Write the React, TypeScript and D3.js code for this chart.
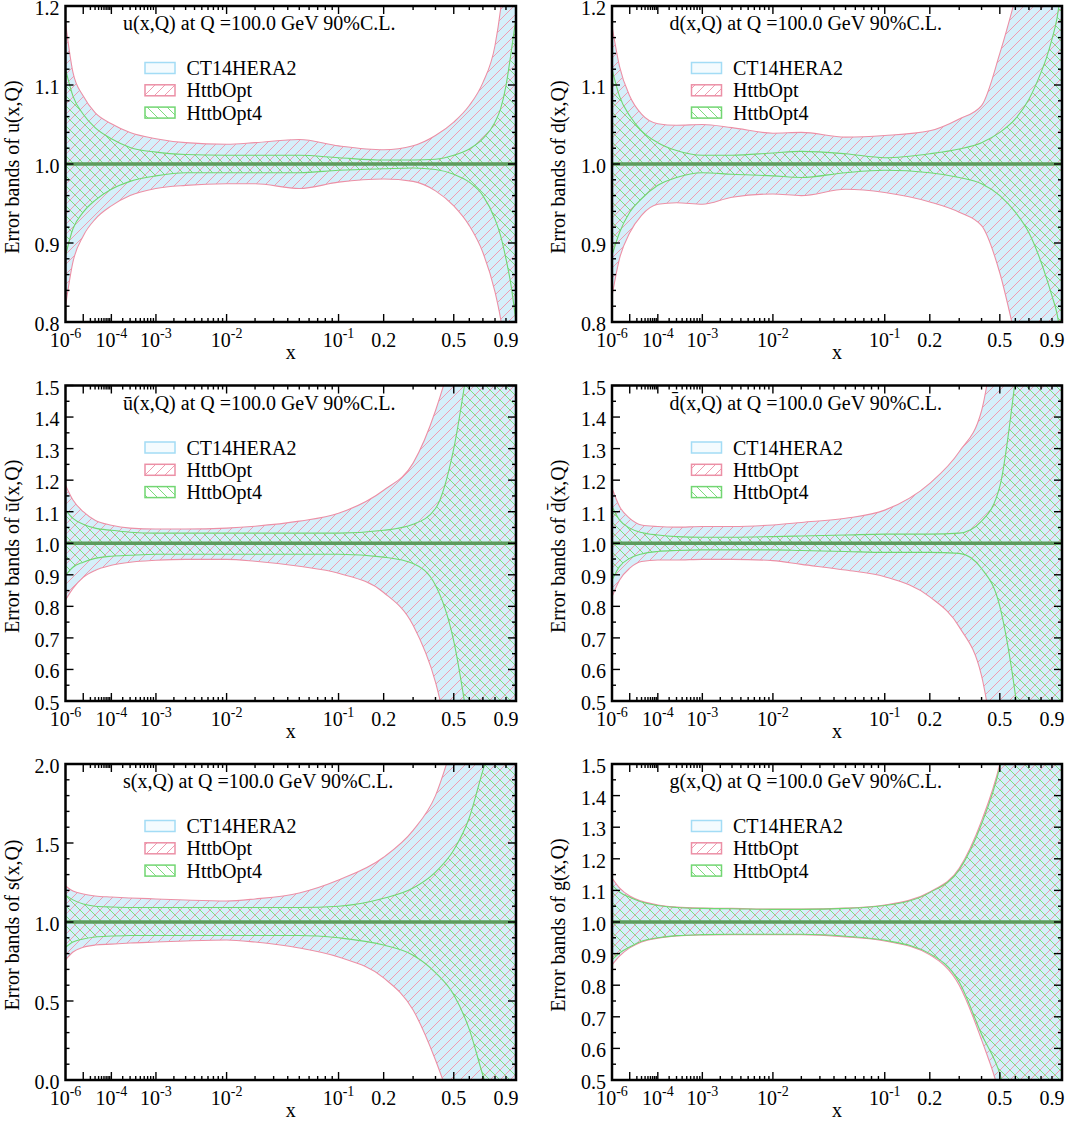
import React from 'react';
import * as d3 from 'd3';

// x sampling grid (momentum fraction)
const X_GRID = [1e-6, 3e-6, 1e-5, 3e-5, 1e-4, 3e-4, 1e-3, 3e-3, 1e-2, 2e-2, 5e-2, 0.1, 0.2, 0.3, 0.4, 0.5, 0.6, 0.7, 0.8, 0.85, 0.9, 0.95, 1.0];

// ---- u ----
const uOptHi = [1.179, 1.116, 1.086, 1.065, 1.051, 1.040, 1.032, 1.027, 1.025, 1.027, 1.031, 1.023, 1.018, 1.023, 1.036, 1.053, 1.074, 1.103, 1.150, 1.196, 1.26, 1.35, 1.45];
const uOptLo = [0.820, 0.876, 0.909, 0.930, 0.947, 0.960, 0.969, 0.973, 0.975, 0.975, 0.969, 0.977, 0.981, 0.978, 0.966, 0.947, 0.922, 0.888, 0.838, 0.804, 0.76, 0.70, 0.62];
const uOpt4Hi = [1.120, 1.086, 1.063, 1.046, 1.032, 1.021, 1.015, 1.012, 1.011, 1.011, 1.011, 1.008, 1.005, 1.005, 1.006, 1.011, 1.019, 1.032, 1.053, 1.070, 1.099, 1.141, 1.185];
const uOpt4Lo = [0.884, 0.918, 0.939, 0.954, 0.968, 0.978, 0.985, 0.989, 0.989, 0.989, 0.989, 0.992, 0.994, 0.995, 0.993, 0.987, 0.977, 0.960, 0.930, 0.909, 0.880, 0.846, 0.80];

// ---- d ----
const dOptHi = [1.175, 1.124, 1.086, 1.063, 1.051, 1.049, 1.050, 1.046, 1.039, 1.040, 1.034, 1.036, 1.042, 1.057, 1.074, 1.140, 1.21, 1.28, 1.36, 1.40, 1.45, 1.50, 1.55];
const dOptLo = [0.833, 0.880, 0.913, 0.935, 0.949, 0.951, 0.949, 0.958, 0.962, 0.960, 0.968, 0.964, 0.952, 0.939, 0.922, 0.862, 0.78, 0.70, 0.62, 0.58, 0.55, 0.50, 0.45];
const dOpt4Hi = [1.120, 1.086, 1.061, 1.042, 1.027, 1.017, 1.011, 1.011, 1.014, 1.016, 1.013, 1.008, 1.013, 1.019, 1.027, 1.040, 1.057, 1.082, 1.116, 1.135, 1.158, 1.185, 1.23];
const dOpt4Lo = [0.884, 0.913, 0.939, 0.956, 0.973, 0.983, 0.989, 0.987, 0.985, 0.983, 0.989, 0.992, 0.989, 0.983, 0.975, 0.960, 0.939, 0.913, 0.876, 0.855, 0.833, 0.81, 0.77];

// ---- ubar ----
const ubOptHi = [1.184, 1.137, 1.100, 1.073, 1.057, 1.048, 1.045, 1.045, 1.048, 1.054, 1.070, 1.095, 1.168, 1.254, 1.42, 1.62, 1.85, 2.1, 2.4, 2.6, 2.8, 3.0, 3.2];
const ubOptLo = [0.820, 0.857, 0.892, 0.914, 0.930, 0.940, 0.946, 0.949, 0.949, 0.943, 0.927, 0.905, 0.844, 0.740, 0.560, 0.30, 0.05, -0.2, -0.5, -0.7, -0.9, -1.1, -1.3];
const ubOpt4Hi = [1.105, 1.079, 1.060, 1.048, 1.041, 1.035, 1.032, 1.032, 1.032, 1.032, 1.032, 1.032, 1.041, 1.060, 1.110, 1.300, 1.60, 1.9, 2.2, 2.4, 2.6, 2.8, 3.0];
const ubOpt4Lo = [0.898, 0.924, 0.940, 0.952, 0.959, 0.962, 0.965, 0.965, 0.965, 0.965, 0.965, 0.965, 0.956, 0.936, 0.867, 0.690, 0.40, 0.1, -0.2, -0.4, -0.6, -0.8, -1.0];

// ---- dbar ----
const dbOptHi = [1.175, 1.117, 1.079, 1.058, 1.053, 1.051, 1.053, 1.053, 1.058, 1.066, 1.079, 1.105, 1.19, 1.29, 1.42, 1.75, 2.0, 2.3, 2.6, 2.8, 3.0, 3.2, 3.4];
const dbOptLo = [0.830, 0.883, 0.921, 0.942, 0.947, 0.947, 0.949, 0.949, 0.945, 0.933, 0.915, 0.894, 0.83, 0.735, 0.58, 0.25, 0.0, -0.3, -0.6, -0.8, -1.0, -1.2, -1.4];
const dbOpt4Hi = [1.117, 1.074, 1.048, 1.034, 1.026, 1.021, 1.019, 1.019, 1.021, 1.023, 1.026, 1.029, 1.029, 1.032, 1.07, 1.18, 1.52, 1.9, 2.2, 2.4, 2.6, 2.8, 3.0];
const dbOpt4Lo = [0.883, 0.926, 0.952, 0.966, 0.974, 0.977, 0.979, 0.979, 0.979, 0.977, 0.974, 0.971, 0.971, 0.968, 0.92, 0.80, 0.52, 0.15, -0.2, -0.4, -0.6, -0.8, -1.0];

// ---- s ----
const sOptHi = [1.228, 1.196, 1.177, 1.165, 1.158, 1.152, 1.146, 1.139, 1.133, 1.146, 1.184, 1.266, 1.41, 1.58, 1.80, 2.15, 2.5, 2.9, 3.3, 3.5, 3.7, 3.9, 4.1];
const sOptLo = [0.760, 0.810, 0.840, 0.854, 0.860, 0.867, 0.873, 0.880, 0.886, 0.873, 0.835, 0.778, 0.646, 0.443, 0.127, -0.2, -0.5, -0.8, -1.1, -1.3, -1.5, -1.7, -1.9];
const sOpt4Hi = [1.170, 1.140, 1.114, 1.100, 1.095, 1.092, 1.092, 1.092, 1.092, 1.092, 1.092, 1.100, 1.150, 1.215, 1.316, 1.456, 1.66, 1.96, 2.2, 2.4, 2.6, 2.8, 3.0];
const sOpt4Lo = [0.840, 0.873, 0.892, 0.905, 0.911, 0.915, 0.915, 0.915, 0.915, 0.915, 0.915, 0.900, 0.854, 0.790, 0.680, 0.540, 0.320, 0.03, -0.2, -0.4, -0.6, -0.8, -1.0];

// ---- g ----
const gOptHi = [1.139, 1.108, 1.082, 1.066, 1.054, 1.047, 1.044, 1.043, 1.041, 1.041, 1.044, 1.054, 1.095, 1.17, 1.32, 1.50, 1.75, 2.0, 2.3, 2.5, 2.7, 2.9, 3.1];
const gOptLo = [0.864, 0.892, 0.918, 0.937, 0.949, 0.956, 0.959, 0.960, 0.960, 0.960, 0.953, 0.940, 0.896, 0.800, 0.627, 0.45, 0.2, -0.1, -0.4, -0.6, -0.8, -1.0, -1.2];
const gOpt4Hi = [1.117, 1.095, 1.078, 1.063, 1.052, 1.046, 1.043, 1.042, 1.040, 1.040, 1.043, 1.052, 1.093, 1.165, 1.31, 1.49, 1.75, 2.0, 2.3, 2.5, 2.7, 2.9, 3.1];
const gOpt4Lo = [0.880, 0.902, 0.921, 0.939, 0.950, 0.957, 0.960, 0.961, 0.961, 0.961, 0.955, 0.942, 0.900, 0.810, 0.645, 0.52, 0.32, 0.0, -0.3, -0.5, -0.7, -0.9, -1.1];

// CT14HERA2 band coincides with HttbOpt in the picture
const uCtHi = uOptHi, uCtLo = uOptLo;
const dCtHi = dOptHi, dCtLo = dOptLo;
const ubCtHi = ubOptHi, ubCtLo = ubOptLo;
const dbCtHi = dbOptHi, dbCtLo = dbOptLo;
const sCtHi = sOptHi, sCtLo = sOptLo;
const gCtHi = gOptHi, gCtLo = gOptLo;

const LEGEND = ['CT14HERA2', 'HttbOpt', 'HttbOpt4'];

const X_LABELS = [
  { v: 1e-6, base: '10', exp: '-6' },
  { v: 1e-4, base: '10', exp: '-4' },
  { v: 1e-3, base: '10', exp: '-3' },
  { v: 1e-2, base: '10', exp: '-2' },
  { v: 1e-1, base: '10', exp: '-1' },
  { v: 0.2, base: '0.2', exp: '' },
  { v: 0.5, base: '0.5', exp: '' },
  { v: 0.9, base: '0.9', exp: '' },
];
const X_MAJOR = [1e-5, 1e-4, 1e-3, 1e-2, 0.1, 0.2, 0.5];
const X_MINOR: number[] = [];
[-5, -4, -3, -2].forEach((n) => {
  for (let k = 2; k <= 9; k++) X_MINOR.push(k * Math.pow(10, n));
});
[0.3, 0.4, 0.6, 0.7, 0.8, 0.9].forEach((v) => X_MINOR.push(v));

const FONT = "'Liberation Serif', 'Times New Roman', serif";
const BLUE = '#d5effa';
const BLUE_EDGE = '#a3dcf5';
const PINK = '#f09cb0';
const PINK_EDGE = '#ec90a6';
const GREEN = '#7edc7e';
const GREEN_EDGE = '#72d672';
const MIDLINE = '#5d9c5d';

const LEFT = [65.5, 516];
const RIGHT = [612, 1062];
const ROWS = [[6, 322], [385.5, 701], [764, 1080]];

type PanelCfg = {
  id: string;
  name: string;
  xr: number[];
  yr: number[];
  yDomain: [number, number];
  yMajor: number;
  yMinor: number;
  yFmt: (v: number) => string;
  ct: number[][];
  opt: number[][];
  opt4: number[][];
};

const fmt1 = (v: number) => v.toFixed(1);

const PANELS: PanelCfg[] = [
  { id: 'u', name: 'u', xr: LEFT, yr: ROWS[0], yDomain: [0.8, 1.2], yMajor: 0.1, yMinor: 0.02, yFmt: fmt1, ct: [uCtLo, uCtHi], opt: [uOptLo, uOptHi], opt4: [uOpt4Lo, uOpt4Hi] },
  { id: 'd', name: 'd', xr: RIGHT, yr: ROWS[0], yDomain: [0.8, 1.2], yMajor: 0.1, yMinor: 0.02, yFmt: fmt1, ct: [dCtLo, dCtHi], opt: [dOptLo, dOptHi], opt4: [dOpt4Lo, dOpt4Hi] },
  { id: 'ub', name: 'ū', xr: LEFT, yr: ROWS[1], yDomain: [0.5, 1.5], yMajor: 0.1, yMinor: 0.05, yFmt: fmt1, ct: [ubCtLo, ubCtHi], opt: [ubOptLo, ubOptHi], opt4: [ubOpt4Lo, ubOpt4Hi] },
  { id: 'db', name: 'd\u0304', xr: RIGHT, yr: ROWS[1], yDomain: [0.5, 1.5], yMajor: 0.1, yMinor: 0.05, yFmt: fmt1, ct: [dbCtLo, dbCtHi], opt: [dbOptLo, dbOptHi], opt4: [dbOpt4Lo, dbOpt4Hi] },
  { id: 's', name: 's', xr: LEFT, yr: ROWS[2], yDomain: [0, 2.0], yMajor: 0.5, yMinor: 0.1, yFmt: fmt1, ct: [sCtLo, sCtHi], opt: [sOptLo, sOptHi], opt4: [sOpt4Lo, sOpt4Hi] },
  { id: 'g', name: 'g', xr: RIGHT, yr: ROWS[2], yDomain: [0.5, 1.5], yMajor: 0.1, yMinor: 0.05, yFmt: fmt1, ct: [gCtLo, gCtHi], opt: [gOptLo, gOptHi], opt4: [gOpt4Lo, gOpt4Hi] },
];

function range(a: number, b: number, step: number) {
  const out: number[] = [];
  const n = Math.round((b - a) / step);
  for (let i = 0; i <= n; i++) out.push(+(a + i * step).toFixed(6));
  return out;
}

function Panel({ cfg }: { cfg: PanelCfg }) {
  const [x0, x1] = cfg.xr;
  const [y0, y1] = cfg.yr;
  const xs = d3.scalePow().exponent(0.2).domain([1e-6, 1]).range([x0, x1]);
  const ys = d3.scaleLinear().domain(cfg.yDomain).range([y1, y0]);
  const area = (lo: number[], hi: number[]) =>
    d3.area<number>()
      .x((d) => xs(d))
      .y0((_, i) => ys(lo[i]))
      .y1((_, i) => ys(hi[i]))
      .curve(d3.curveMonotoneX)(X_GRID) || '';
  const line = (arr: number[]) =>
    d3.line<number>()
      .x((d) => xs(d))
      .y((_, i) => ys(arr[i]))
      .curve(d3.curveMonotoneX)(X_GRID) || '';
  const clipId = `clip-${cfg.id}`;
  const yMaj = range(cfg.yDomain[0], cfg.yDomain[1], cfg.yMajor);
  const yMin = range(cfg.yDomain[0], cfg.yDomain[1], cfg.yMinor).filter(
    (v) => !yMaj.some((m) => Math.abs(m - v) < 1e-6)
  );
  const majLen = 8;
  const minLen = 4;
  const tickStyle = { stroke: '#000', strokeWidth: 1.4 };
  const lx = x0 + 79.5;
  const ly = y0 + 56.5;
  const cx = (x0 + x1) / 2;
  const cy = (y0 + y1) / 2;
  return (
    <g>
      <defs>
        <clipPath id={clipId}>
          <rect x={x0} y={y0} width={x1 - x0} height={y1 - y0} />
        </clipPath>
      </defs>
      <g clipPath={`url(#${clipId})`}>
        <path d={area(cfg.ct[0], cfg.ct[1])} fill={BLUE} stroke="none" />
        <path d={area(cfg.opt[0], cfg.opt[1])} fill="url(#hatchPink)" stroke="none" />
        <path d={area(cfg.opt4[0], cfg.opt4[1])} fill="url(#hatchGreen)" stroke="none" />
        <path d={line(cfg.opt[0])} fill="none" stroke={PINK_EDGE} strokeWidth={1.1} />
        <path d={line(cfg.opt[1])} fill="none" stroke={PINK_EDGE} strokeWidth={1.1} />
        <path d={line(cfg.opt4[0])} fill="none" stroke={GREEN_EDGE} strokeWidth={1.1} />
        <path d={line(cfg.opt4[1])} fill="none" stroke={GREEN_EDGE} strokeWidth={1.1} />
        <line x1={x0} x2={x1} y1={ys(1)} y2={ys(1)} stroke={MIDLINE} strokeWidth={3.5} />
      </g>
      {/* x ticks */}
      {X_MAJOR.map((v) => (
        <g key={'xM' + v}>
          <line x1={xs(v)} x2={xs(v)} y1={y1} y2={y1 - majLen} {...tickStyle} />
          <line x1={xs(v)} x2={xs(v)} y1={y0} y2={y0 + majLen} {...tickStyle} />
        </g>
      ))}
      {X_MINOR.map((v) => (
        <g key={'xm' + v}>
          <line x1={xs(v)} x2={xs(v)} y1={y1} y2={y1 - minLen} {...tickStyle} />
          <line x1={xs(v)} x2={xs(v)} y1={y0} y2={y0 + minLen} {...tickStyle} />
        </g>
      ))}
      {/* y ticks */}
      {yMaj.map((v) => (
        <g key={'yM' + v}>
          <line x1={x0} x2={x0 + majLen} y1={ys(v)} y2={ys(v)} {...tickStyle} />
          <line x1={x1} x2={x1 - majLen} y1={ys(v)} y2={ys(v)} {...tickStyle} />
          <text x={x0 - 6} y={ys(v)} dy="0.45em" textAnchor="end" fontSize={20} fontFamily={FONT}>
            {cfg.yFmt(v)}
          </text>
        </g>
      ))}
      {yMin.map((v) => (
        <g key={'ym' + v}>
          <line x1={x0} x2={x0 + minLen} y1={ys(v)} y2={ys(v)} {...tickStyle} />
          <line x1={x1} x2={x1 - minLen} y1={ys(v)} y2={ys(v)} {...tickStyle} />
        </g>
      ))}
      {/* x tick labels */}
      {X_LABELS.map((l) => (
        <text key={'xl' + l.v} x={xs(l.v)} y={y1 + 25} textAnchor="middle" fontSize={20} fontFamily={FONT}>
          {l.base}
          {l.exp && (
            <tspan fontSize={14} dy={-9}>
              {l.exp}
            </tspan>
          )}
        </text>
      ))}
      <text x={cx} y={y1 + 37} textAnchor="middle" fontSize={20} fontFamily={FONT}>
        x
      </text>
      {/* frame */}
      <rect x={x0} y={y0} width={x1 - x0} height={y1 - y0} fill="none" stroke="#000" strokeWidth={2.5} />
      {/* title */}
      <text x={x0 + 57.5} y={y0 + 24} fontSize={20} fontFamily={FONT}>
        {`${cfg.name}(x,Q) at Q =100.0 GeV 90%C.L.`}
      </text>
      {/* legend */}
      <g>
        <rect x={lx} y={ly} width={30} height={11} fill="#f4fbfe" stroke={BLUE_EDGE} strokeWidth={1.5} />
        <rect x={lx} y={ly + 22.3} width={30} height={11} fill="url(#hatchPink)" stroke={PINK_EDGE} strokeWidth={1.5} />
        <rect x={lx} y={ly + 44.6} width={30} height={11} fill="url(#hatchGreen)" stroke={GREEN_EDGE} strokeWidth={1.5} />
        {LEGEND.map((t, i) => (
          <text key={t} x={x0 + 121} y={ly + 12.5 + i * 22.3} fontSize={20} fontFamily={FONT}>
            {t}
          </text>
        ))}
      </g>
      {/* y label */}
      <text
        transform={`translate(${x0 - 47},${cy + 3})  rotate(-90)`}
        textAnchor="middle"
        fontSize={20}
        fontFamily={FONT}
      >
        {`Error bands of ${cfg.name}(x,Q)`}
      </text>
    </g>
  );
}

export default function App() {
  return (
    <svg
      width={1075}
      height={1122}
      style={{ position: 'absolute', left: 0, top: 0, background: '#fff' }}
    >
      <defs>
        <pattern id="hatchPink" patternUnits="userSpaceOnUse" width={10} height={10}>
          <path d="M-1,1 l2,-2 M0,10 l10,-10 M9,11 l2,-2" stroke={PINK} strokeWidth={1} shapeRendering="crispEdges" />
        </pattern>
        <pattern id="hatchGreen" patternUnits="userSpaceOnUse" width={10} height={10}>
          <path d="M-1,9 l2,2 M0,0 l10,10 M9,-1 l2,2" stroke={GREEN} strokeWidth={1} shapeRendering="crispEdges" />
        </pattern>
      </defs>
      <rect x={0} y={0} width={1075} height={1122} fill="#fff" />
      {PANELS.map((p) => (
        <Panel key={p.id} cfg={p} />
      ))}
    </svg>
  );
}
